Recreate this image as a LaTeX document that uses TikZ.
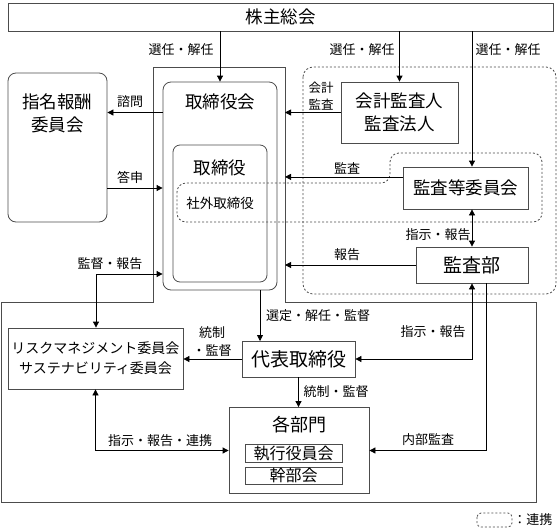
\documentclass[tikz,border=0pt]{standalone}
\usepackage{fontspec}
\setmainfont{Noto Sans CJK JP}
\usetikzlibrary{shapes, arrows.meta}

\tikzset{
  box/.style={rectangle, draw=black!70, inner sep=0pt},
  rbox/.style={box, rounded corners=8pt},
  big/.style={font=\fontsize{17.5}{23}\selectfont},
  lbl/.style={font=\fontsize{13}{18}\selectfont, inner sep=0pt, align=center},
  link/.style={draw=black!70, dash pattern=on 2pt off 2pt, rounded corners=9pt},
}

\begin{document}
\begin{tikzpicture}[x=1pt, y=-1pt, line width=0.8pt, >={Triangle[length=6pt,width=6pt]}]
\useasboundingbox (0,0) rectangle (560,528);

\draw[black!70] (153,67) -- (285,67) -- (285,302) -- (536,302) -- (536,502) -- (1,502) -- (1,302) -- (153,302) -- cycle;
\coordinate (fr) at (285,67);
\draw[link, rounded corners=10pt] (303,67) rectangle (556,294);
\draw[link] (177,200) -- (177,183) -- (390,183) -- (390,153) -- (542,153) -- (542,222) -- (177,222) -- cycle;

\node[box, big, minimum width=545, minimum height=28] (kabu) at (280.5,17) {株主総会};
\node[rbox, minimum width=114, minimum height=208] (torikai) at (220,186) {};
\node[big] (torikaiT) at (220,102) {取締役会};
\node[rbox, rounded corners=7pt, minimum width=94, minimum height=137] (tori) at (220,213.5) {};
\node[big] (toriT) at (220,168) {取締役};
\node[font=\fontsize{13.5}{16}\selectfont] (shagai) at (220,203) {社外取締役};
\node[box, big, align=center, minimum width=117, minimum height=61] (kansanin) at (399.5,112.5) {会計監査人\\監査法人};
\node[box, big, minimum width=125, minimum height=42] (kansaiin) at (465.5,188) {監査等委員会};
\node[box, font=\fontsize{19}{22}\selectfont, minimum width=112, minimum height=36] (kansabu) at (472,265) {監査部};
\node[rbox, minimum width=99, minimum height=149] (shimei) at (57.5,147.5) {};
\node[big, align=center] (shimeiT) at (57.5,113.5) {指名報酬\\委員会};
\node[box, font=\fontsize{14}{20}\selectfont, align=center, minimum width=175, minimum height=61] (risk) at (95.5,358.5) {リスクマネジメント委員会\\サステナビリティ委員会};
\node[box, font=\fontsize{19}{22}\selectfont, minimum width=113, minimum height=36] (daihyo) at (298.5,359) {代表取締役};
\node[box, minimum width=140, minimum height=86] (kakubu) at (299,450.5) {};
\node[font=\fontsize{18}{20}\selectfont] (kakubuT) at (299,425) {各部門};
\node[box, font=\fontsize{16}{18}\selectfont, minimum width=97, minimum height=18] (shikko) at (293.5,453.5) {執行役員会};
\node[box, font=\fontsize{16}{18}\selectfont, minimum width=97, minimum height=17] (kanbu) at (293.5,475.5) {幹部会};

\coordinate (kb) at (96,274);
\coordinate (dtop) at (260,341);
\coordinate (naibu) at (486,283);

\draw[->] (kabu.south -| torikai) -- (torikai.north);
\node[lbl] (l1) at (181,50) {選任・解任};
\draw[->] (kabu.south -| kansanin) -- (kansanin.north);
\node[lbl] (l2) at (362,50) {選任・解任};
\draw[->] (kabu.south -| kansabu) -- (kansaiin.north -| kansabu);
\node[lbl] (l3) at (508,50) {選任・解任};

\draw[->] (kansanin.west) -- (kansanin.west -| fr);
\node[lbl, font=\fontsize{12.5}{17}\selectfont] (l4) at (321,96.5) {会計\\監査};
\draw[->] (kansaiin.170) -- (kansaiin.170 -| fr);
\node[lbl] (l5) at (347,168) {監査};
\draw[<->] (kansaiin.south -| kansabu) -- (kansabu.north);
\node[lbl] (l6) at (438,235) {指示・報告};
\draw[->] (kansabu.west) -- (kansabu.west -| fr);
\node[lbl] (l7) at (347,255) {報告};

\draw[->] (torikai.west |- kansanin) -- (shimei.east |- kansanin);
\node[lbl] (l8) at (130,102) {諮問};
\draw[->] ([yshift=-40.5pt]shimei.east) -- ([yshift=-40.5pt]shimei.east -| torikai.west);
\node[lbl] (l9) at (130,177) {答申};
\draw[<->] (kb -| torikai.west) -- (kb) -- (kb |- risk.north);
\node[lbl] (l10) at (110,264) {監督・報告};
\draw[<->] (risk.south) |- (kakubu.west);
\node[lbl] (l11) at (160,441) {指示・報告・連携};

\draw[->] (torikai.south -| dtop) -- (dtop);
\node[lbl] (l12) at (318,316) {選定・解任・監督};
\draw[->] (daihyo.west) -- (daihyo.west -| risk.east);
\node[lbl] (l13) at (212,342) {統制\\・監督};
\draw[<->] (kansabu.south) |- (daihyo.east);
\node[lbl] (l14) at (433,332) {指示・報告};
\draw[->] (naibu) |- (kakubu.east);
\node[lbl] (l15) at (428,440) {内部監査};
\draw[->] (daihyo.south) -- (daihyo.south |- kakubu.north);
\node[lbl] (l16) at (336,392) {統制・監督};

\draw[link, rounded corners=4pt] (477,513) rectangle (512,527);
\node[lbl, anchor=west] (legend) at (513,520) {：連携};
\end{tikzpicture}
\end{document}
